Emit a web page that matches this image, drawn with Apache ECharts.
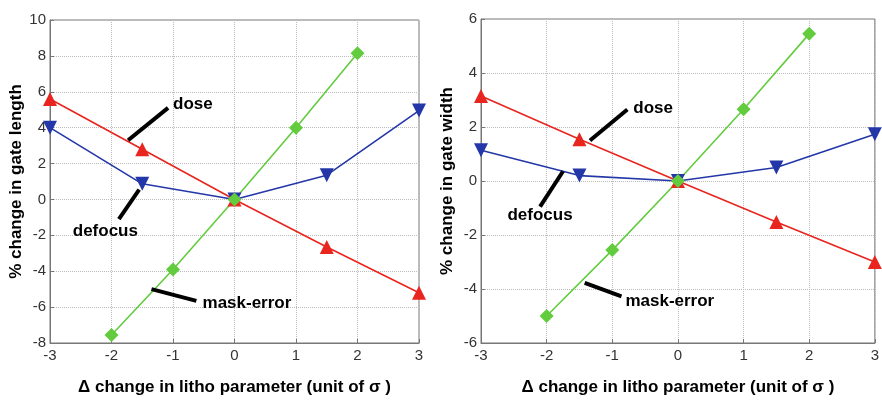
<!DOCTYPE html>
<html>
<head>
<meta charset="utf-8">
<script src="https://cdn.jsdelivr.net/npm/echarts@6/dist/echarts.min.js"></script>
<style>
  html, body { margin: 0; padding: 0; background: #fff; }
  #chart-box { width: 882px; height: 401px; }
</style>
</head>
<body>
<div id="chart-box"></div>
<script>
// x positions (unit of sigma)
const doseX = [-3, -1.5, 0, 1.5, 3];
const maskX = [-2, -1, 0, 1, 2];

// left panel: % change in gate length
const lengthDose = [5.6, 2.8, 0, -2.65, -5.2];
const lengthDefocus = [4.0, 0.87, 0, 1.35, 4.95];
const lengthMask = [-7.55, -3.9, 0, 4.0, 8.15];

// right panel: % change in gate width
const widthDose = [3.15, 1.55, 0, -1.52, -3.0];
const widthDefocus = [1.14, 0.2, 0, 0.5, 1.73];
const widthMask = [-5.0, -2.56, 0, 2.66, 5.45];

const xTicks = [-3, -2, -1, 0, 1, 2, 3];
const lengthTicks = [-8, -6, -4, -2, 0, 2, 4, 6, 8, 10];
const widthTicks = [-6, -4, -2, 0, 2, 4, 6];

// annotation leader lines (data coords) and text anchors
const lengthNotes = [
    {name: 'dose', line: [[-1.73, 3.3], [-1.08, 5.1]], text: [-1.0, 5.3], align: 'left'},
    {name: 'defocus', line: [[-1.55, 0.55], [-1.88, -1.1]], text: [-2.1, -1.75], align: 'center'},
    {name: 'mask-error', line: [[-1.35, -5.0], [-0.62, -5.65]], text: [-0.52, -5.8], align: 'left'}
];
const widthNotes = [
    {name: 'dose', line: [[-1.34, 1.5], [-0.77, 2.65]], text: [-0.68, 2.7], align: 'left'},
    {name: 'defocus', line: [[-1.75, 0.36], [-2.1, -0.95]], text: [-2.1, -1.28], align: 'center'},
    {name: 'mask-error', line: [[-1.42, -3.77], [-0.86, -4.27]], text: [-0.8, -4.45], align: 'left'}
];

const red = '#e8251e';
const blue = '#2437a8';
const green = '#62cc3e';
const fontFamily = '"Liberation Sans", Arial, sans-serif';

const zip = (xs, ys) => xs.map((x, i) => [x, ys[i]]);

const xAxisFor = (gridIndex) => ({
    type: 'value', gridIndex: gridIndex, min: xTicks[0], max: xTicks[xTicks.length - 1], interval: 1,
    name: 'Δ change in litho parameter (unit of σ )',
    nameLocation: 'middle', nameGap: 36,
    nameTextStyle: {fontFamily: fontFamily, fontSize: 17, fontWeight: 'bold', color: '#000'},
    axisLine: {show: true, onZero: false, lineStyle: {color: '#777', width: 1}},
    axisTick: {show: true, inside: true, length: 4, lineStyle: {color: '#777'}},
    axisLabel: {fontFamily: fontFamily, fontSize: 15, color: '#333', margin: 5},
    splitLine: {show: true, lineStyle: {color: '#bbb', type: 'dotted', width: 1}}
});

const yAxisFor = (gridIndex, min, max, name) => ({
    type: 'value', gridIndex: gridIndex, min: min, max: max, interval: 2,
    name: name, nameLocation: 'middle', nameGap: 25,
    nameTextStyle: {fontFamily: fontFamily, fontSize: 17, fontWeight: 'bold', color: '#000'},
    axisLine: {show: true, onZero: false, lineStyle: {color: '#777', width: 1}},
    axisTick: {show: true, inside: true, length: 4, lineStyle: {color: '#777'}},
    axisLabel: {fontFamily: fontFamily, fontSize: 15, color: '#333', margin: 4},
    splitLine: {show: true, lineStyle: {color: '#bbb', type: 'dotted', width: 1}}
});

const curve = (idx, xs, ys, color, symbol, size) => ({
    type: 'line', xAxisIndex: idx, yAxisIndex: idx,
    data: zip(xs, ys),
    symbol: symbol, symbolSize: size, showAllSymbol: true,
    lineStyle: {color: color, width: 1.6},
    itemStyle: {color: color, opacity: 1},
    z: 3, animation: false
});

const notes = (idx, list) => {
    const out = [];
    list.forEach(n => {
        out.push({
            type: 'line', xAxisIndex: idx, yAxisIndex: idx,
            data: n.line, symbol: 'none',
            lineStyle: {color: '#000', width: 4},
            z: 4, animation: false, silent: true
        });
        out.push({
            type: 'scatter', xAxisIndex: idx, yAxisIndex: idx,
            data: [n.text], symbolSize: 1,
            itemStyle: {opacity: 0},
            label: {
                show: true, position: 'inside', formatter: n.name,
                align: n.align, verticalAlign: 'middle', opacity: 1,
                fontFamily: fontFamily, fontSize: 17, fontWeight: 'bold', color: '#000'
            },
            z: 5, animation: false, silent: true
        });
    });
    return out;
};

const chart = echarts.init(document.getElementById('chart-box'));
chart.setOption({
    backgroundColor: '#fff',
    animation: false,
    grid: [
        {left: 50, top: 20, width: 369, height: 337, show: true, borderColor: '#777', borderWidth: 1},
        {left: 481, top: 19, width: 396, height: 338, show: true, borderColor: '#777', borderWidth: 1}
    ],
    xAxis: [xAxisFor(0), xAxisFor(1)],
    yAxis: [
        yAxisFor(0, lengthTicks[0], lengthTicks[lengthTicks.length - 1], '% change in gate length'),
        yAxisFor(1, widthTicks[0], widthTicks[widthTicks.length - 1], '% change in gate width')
    ],
    series: [
        curve(0, doseX, lengthDose, red, 'triangle', 14),
        curve(0, doseX, lengthDefocus, blue, 'path://M0,0 L10,0 L5,9 Z', 14),
        curve(0, maskX, lengthMask, green, 'diamond', 14),
        curve(1, doseX, widthDose, red, 'triangle', 14),
        curve(1, doseX, widthDefocus, blue, 'path://M0,0 L10,0 L5,9 Z', 14),
        curve(1, maskX, widthMask, green, 'diamond', 14),
        ...notes(0, lengthNotes),
        ...notes(1, widthNotes)
    ]
});
</script>
</body>
</html>
